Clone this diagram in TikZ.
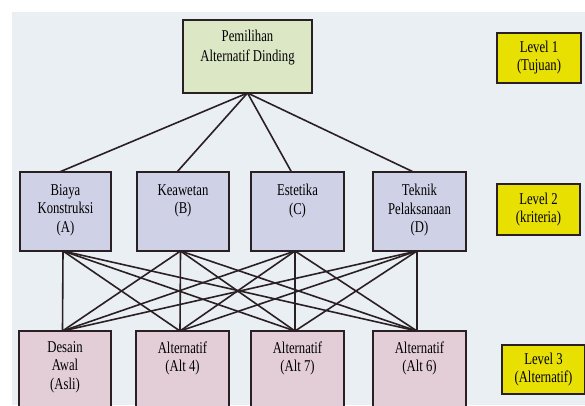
\documentclass[tikz,border=0pt]{standalone}
\usepackage{fontspec}
\setmainfont[FakeStretch=0.77]{Liberation Serif}
\definecolor{edge}{HTML}{2A2024}
\definecolor{page}{HTML}{EAEFF4}
\definecolor{goalfill}{HTML}{DCE7C6}
\definecolor{critfill}{HTML}{CFD1E6}
\definecolor{altfill}{HTML}{E3CED7}
\definecolor{levfill}{HTML}{E8E000}
\newcommand{\bx}[5]{\parbox[c][#2pt][t]{#1pt}{\centering\fontsize{16.5}{#4}\selectfont\vspace*{#3pt}#5\par}}
\newcommand{\lv}[3]{\parbox[c][#2pt][c]{#1pt}{\centering\fontsize{16.5}{18}\selectfont #3\par}}
\begin{document}
\begin{tikzpicture}[x=1pt,y=-1pt,
  box/.style={draw=edge, line width=1.7pt, inner sep=0pt, outer sep=0pt, anchor=north west},
  goal/.style={box, fill=goalfill},
  crit/.style={box, fill=critfill},
  alt/.style={box, fill=altfill},
  lev/.style={box, fill=levfill},
  link/.style={draw=edge, line width=1.6pt}]
\useasboundingbox (0,0) rectangle (585,405);
\clip (0,0) rectangle (585,405);
\fill[white] (0,0) rectangle (585,405);
\fill[page] (12,12) rectangle (585,405);

\node[goal] (G) at (183,20) {\bx{129}{73}{10.5}{20}{Pemilihan\\Alternatif Dinding}};

\node[crit] (A) at (20,172) {\bx{91}{79}{12.5}{18.5}{Biaya\\Konstruksi\\(A)}};
\node[crit] (B) at (137,172) {\bx{92}{79}{12.5}{18.5}{Keawetan\\(B)}};
\node[crit] (C) at (251,172) {\bx{93}{79}{12.5}{18.5}{Estetika\\(C)}};
\node[crit] (D) at (373,172) {\bx{93}{79}{12.5}{18.5}{Teknik\\Pelaksanaan\\(D)}};

\node[alt] (P) at (19,331) {\bx{92}{85}{10.5}{18.5}{Desain\\Awal\\(Asli)}};
\node[alt] (Q) at (136,331) {\bx{93}{85}{10.5}{18.5}{Alternatif\\(Alt 4)}};
\node[alt] (R) at (251,331) {\bx{93}{85}{10.5}{18.5}{Alternatif\\(Alt 7)}};
\node[alt] (S) at (373,331) {\bx{93}{85}{10.5}{18.5}{Alternatif\\(Alt 6)}};

\node[lev] (L1) at (497,33) {\lv{84}{50}{Level 1\\(Tujuan)}};
\node[lev] (L2) at (497,184) {\lv{83}{51}{Level 2\\(kriteria)}};
\node[lev] (L3) at (502,345) {\lv{83}{49}{Level 3\\(Alternatif)}};

\foreach \t in {A,B,C,D}
  \draw[link] (G.south) -- ([xshift=-6pt]\t.north);
\foreach \s in {A,B,C,D}
  \foreach \t in {P,Q,R,S}
    \draw[link] ([xshift=-2.5pt]\s.south) -- ([xshift=-2.5pt]\t.north);
\end{tikzpicture}
\end{document}
